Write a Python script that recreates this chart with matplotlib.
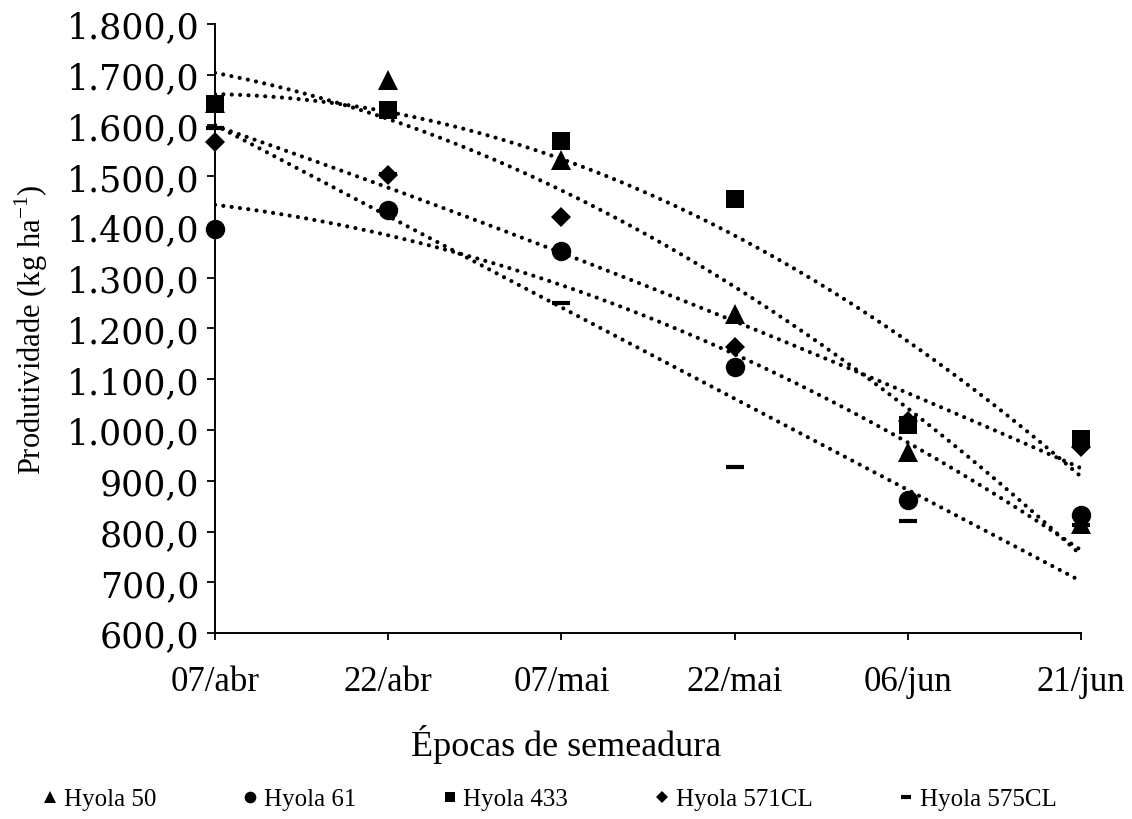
import numpy as np
import matplotlib
matplotlib.use('Agg')
import matplotlib.pyplot as plt
from matplotlib.ticker import FuncFormatter

# dados (kg/ha)
epocas = ['07/abr', '22/abr', '07/mai', '22/mai', '06/jun', '21/jun']
hyola_50 = [1645, 1690, 1532, 1228, 957, 815]
hyola_61 = [1396, 1434, 1352, 1125, 862, 832]
hyola_433 = [1642, 1630, 1570, 1455, 1010, 982]
hyola_571cl = [1568, 1503, 1420, 1163, 1018, 966]
hyola_575cl = [1595, 1505, 1250, 928, 820, 812]

series = [
    ('Hyola 50', hyola_50, '^', 14, 2),
    ('Hyola 61', hyola_61, 'o', 14, 2),
    ('Hyola 433', hyola_433, 's', 13, 2),
    ('Hyola 571CL', hyola_571cl, 'D', 10, 2),
    ('Hyola 575CL', hyola_575cl, '_', 13, 1),
]

serif = 'Liberation Serif'
plt.rcParams['mathtext.fontset'] = 'custom'
plt.rcParams['mathtext.rm'] = serif

fig = plt.figure(figsize=(11.32, 8.2), dpi=100)
ax = fig.add_axes([215/1132, 1 - 634/820, (1081 - 215)/1132, (634 - 25)/820])

x = np.arange(len(epocas))
xs = np.linspace(0, len(epocas) - 1, 200)

handles = []
# linhas de tendência
for nome, vals, mk, ms, grau in series:
    coef = np.polyfit(x, vals, grau)
    ax.plot(xs, np.polyval(coef, xs), color='black', lw=3,
            linestyle=(0, (0.01, 2.0)), dash_capstyle='round', zorder=2)

# pontos
for nome, vals, mk, ms, grau in series:
    mew = 3 if mk == '_' else 0
    h, = ax.plot(x, vals, linestyle='none', marker=mk, markersize=ms,
                 color='black', markeredgewidth=mew, clip_on=False,
                 zorder=3, label=nome)
    handles.append(h)

ax.set_xlim(0, len(epocas) - 1)
ax.set_ylim(600, 1800)
ax.set_xticks(x)
ax.set_xticklabels(epocas, fontsize=25, family=serif)
ax.set_yticks(np.arange(600, 1801, 100))
ax.yaxis.set_major_formatter(FuncFormatter(
    lambda v, p: f'{v:,.1f}'.replace(',', 'X').replace('.', ',').replace('X', '.')))
for lb in ax.get_yticklabels():
    lb.set_fontsize(25)
    lb.set_family('DejaVu Serif')

ax.spines['top'].set_visible(False)
ax.spines['right'].set_visible(False)
ax.spines['left'].set_linewidth(1.4)
ax.spines['bottom'].set_linewidth(1.4)
ax.tick_params(axis='y', direction='out', length=6, width=1.3, pad=5)
ax.tick_params(axis='x', direction='out', length=5, width=1.3, pad=18)

ax.set_ylabel(r'Produtividade (kg ha$^{\mathregular{-1}}$)', fontsize=22, family=serif)
ax.yaxis.set_label_coords(-0.19, 0.5)
fig.text(0.5, 1 - 745/820, 'Épocas de semeadura', fontsize=26, family=serif,
         ha='center', va='center')

fig.legend(handles=handles, loc='center', bbox_to_anchor=(0.485, 1 - 800/820),
           ncol=5, frameon=False, prop={'family': serif, 'size': 18},
           handlelength=0.7, handletextpad=0.2, columnspacing=3.4, markerscale=0.6)

plt.savefig('out.png', dpi=100)
